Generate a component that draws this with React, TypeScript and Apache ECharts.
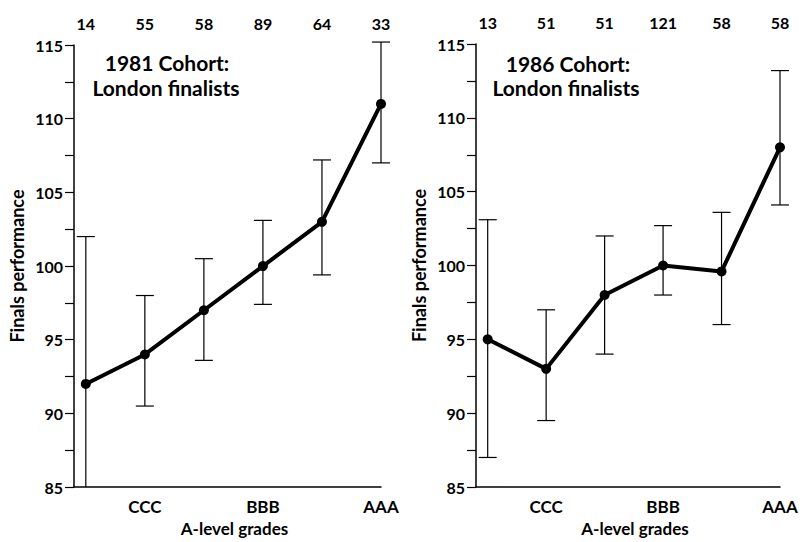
import React, { useEffect, useRef } from "react";
import * as echarts from "echarts";

const gradeLabels = ["", "CCC", "", "BBB", "", "AAA"];
const gradeLabelPositions = [1, 3, 5];
const groupPositions = [0, 1, 2, 3, 4, 5];

const n1981 = [14, 55, 58, 89, 64, 33];
const mean1981 = [92, 94, 97, 100, 103, 111];
const low1981 = [82, 90.5, 93.6, 97.4, 99.4, 107];
const high1981 = [102, 98, 100.5, 103.1, 107.2, 115.2];

const n1986 = [13, 51, 51, 121, 58, 58];
const mean1986 = [95, 93, 98, 100, 99.6, 108];
const low1986 = [87, 89.5, 94, 98, 96, 104.1];
const high1986 = [103.1, 97, 102, 102.7, 103.6, 113.2];

const yTicks = { min: 85, max: 115, interval: 5 };
const FONT = "Lato";

function errorRender(params: any, api: any) {
  const x = api.value(0);
  const lo = api.value(1);
  const hi = api.value(2);
  const pHi = api.coord([x, hi]);
  const pLo = api.coord([x, lo]);
  const cs = params.coordSys;
  const bottom = cs.y + cs.height;
  const half = 9;
  const st = { stroke: "#000", lineWidth: 1.2 };
  const children: any[] = [
    { type: "line", shape: { x1: pHi[0], y1: pHi[1], x2: pHi[0], y2: Math.min(pLo[1], bottom) }, style: st },
    { type: "line", shape: { x1: pHi[0] - half, y1: pHi[1], x2: pHi[0] + half, y2: pHi[1] }, style: st },
  ];
  if (pLo[1] <= bottom) {
    children.push({ type: "line", shape: { x1: pLo[0] - half, y1: pLo[1], x2: pLo[0] + half, y2: pLo[1] }, style: st });
  }
  return { type: "group", children };
}

export default function App() {
  const ref = useRef<HTMLDivElement>(null);
  useEffect(() => {
    if (!ref.current) return;
    const chart = echarts.init(ref.current, null, { renderer: "svg" });
    const black = "#000";
    const textBase = { color: black, fontFamily: FONT, fontWeight: "bold" as const };

    const makeBottomX = (gridIndex: number) => ({
      type: "value",
      gridIndex,
      min: -0.2,
      max: 5,
      position: "bottom",
      splitLine: { show: false },
      axisTick: { show: false },
      axisLine: { show: true, onZero: false, lineStyle: { color: black, width: 1.5 } },
      axisLabel: {
        customValues: gradeLabelPositions,
        formatter: (v: number) => gradeLabels[Math.round(v)],
        ...textBase,
        fontSize: 17,
        margin: 11,
      },
      name: "A-level grades",
      nameLocation: "middle",
      nameGap: 30,
      nameTextStyle: { ...textBase, fontSize: 17, padding: [0, 0, 0, 14] },
    });
    const makeTopX = (gridIndex: number, counts: number[]) => ({
      type: "value",
      gridIndex,
      min: -0.2,
      max: 5,
      position: "top",
      splitLine: { show: false },
      axisTick: { show: false },
      axisLine: { show: false, onZero: false },
      axisLabel: {
        customValues: groupPositions,
        formatter: (v: number) => String(counts[Math.round(v)]),
        ...textBase,
        fontSize: 16,
        margin: 14,
      },
    });
    const makeY = (gridIndex: number) => ({
      type: "value",
      gridIndex,
      min: yTicks.min,
      max: yTicks.max,
      interval: yTicks.interval,
      splitLine: { show: false },
      axisLine: { show: true, onZero: false, lineStyle: { color: black, width: 1.5 } },
      axisTick: { show: true, length: 9, lineStyle: { color: black, width: 1.2 } },
      minorTick: { show: true, splitNumber: 2, length: 9, lineStyle: { color: black, width: 1.2 } },
      axisLabel: { ...textBase, fontSize: 16, margin: 11 },
      name: "Finals performance",
      nameLocation: "middle",
      nameGap: 48,
      nameTextStyle: { ...textBase, fontSize: 18 },
    });

    const lineSeries = (idx: number, means: number[]) => ({
      type: "line",
      xAxisIndex: idx * 2,
      yAxisIndex: idx,
      data: means.map((m, i) => [groupPositions[i], m]),
      symbol: "circle",
      symbolSize: 10,
      itemStyle: { color: black },
      lineStyle: { color: black, width: 4 },
      z: 3,
    });
    const errSeries = (idx: number, lows: number[], highs: number[]) => ({
      type: "custom",
      xAxisIndex: idx * 2,
      yAxisIndex: idx,
      renderItem: errorRender,
      encode: { x: 0, y: [1, 2] },
      data: lows.map((l, i) => [groupPositions[i], l, highs[i]]),
      z: 2,
    });

    const titleStyle = { ...textBase, fill: black, fontSize: 21, textAlign: "center", textVerticalAlign: "middle" };

    chart.setOption({
      animation: false,
      backgroundColor: "#fff",
      grid: [
        { left: 74, top: 45, width: 307, height: 443 },
        { left: 476, top: 44, width: 304, height: 443 },
      ],
      xAxis: [makeBottomX(0), makeTopX(0, n1981), makeBottomX(1), makeTopX(1, n1986)],
      yAxis: [makeY(0), makeY(1)],
      graphic: [
        { type: "text", x: 167, y: 62, style: { text: "1981 Cohort:", ...titleStyle } },
        { type: "text", x: 166, y: 87, style: { text: "London finalists", ...titleStyle } },
        { type: "text", x: 568, y: 63, style: { text: "1986 Cohort:", ...titleStyle } },
        { type: "text", x: 566, y: 87, style: { text: "London finalists", ...titleStyle } },
      ],
      series: [
        errSeries(0, low1981, high1981),
        lineSeries(0, mean1981),
        errSeries(1, low1986, high1986),
        lineSeries(1, mean1986),
      ],
    });
    return () => chart.dispose();
  }, []);
  return <div ref={ref} style={{ position: "fixed", left: 0, top: 0, width: 805, height: 542 }} />;
}
